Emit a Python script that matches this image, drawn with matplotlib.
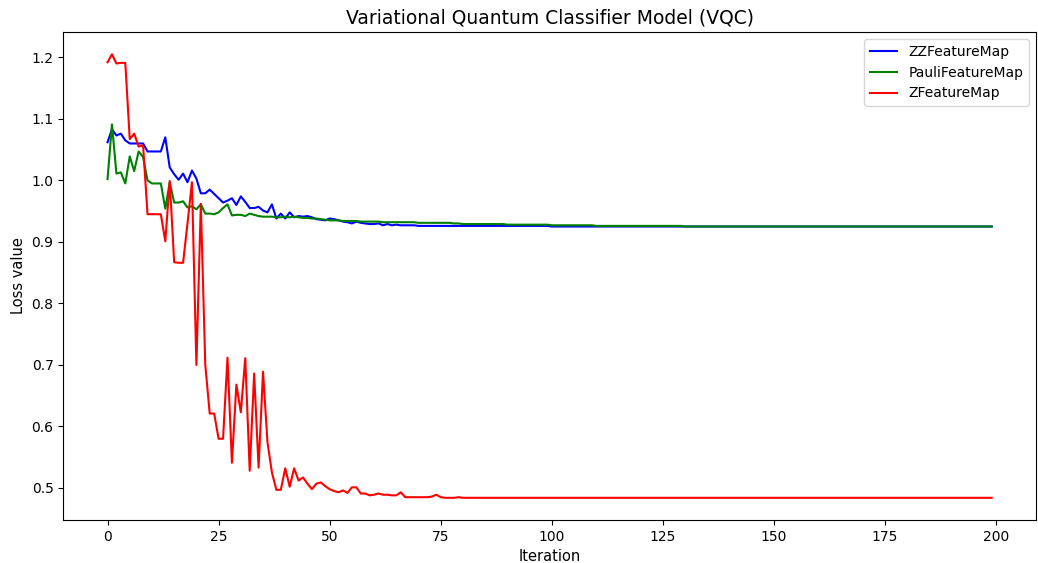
import matplotlib
matplotlib.use("Agg")
import matplotlib.pyplot as plt
import numpy as np

title = "Variational Quantum Classifier Model (VQC)"
labels = ["ZZFeatureMap", "PauliFeatureMap", "ZFeatureMap"]
colors = ["blue", "green", "red"]

zz_loss = [1.062, 1.083, 1.073, 1.076, 1.065, 1.060, 1.060, 1.060, 1.060, 1.047,
           1.047, 1.047, 1.047, 1.070, 1.021, 1.010, 1.001, 1.011, 0.997, 1.016,
           1.003, 0.979, 0.979, 0.985, 0.978, 0.971, 0.964, 0.967, 0.971, 0.960,
           0.974, 0.965, 0.955, 0.955, 0.957, 0.951, 0.948, 0.961, 0.938, 0.946,
           0.938, 0.948, 0.940, 0.942, 0.941, 0.942, 0.940, 0.937, 0.936, 0.935,
           0.938, 0.937, 0.935, 0.933, 0.932, 0.930, 0.933, 0.931, 0.930, 0.929,
           0.929, 0.930, 0.927, 0.929, 0.927, 0.928, 0.927, 0.927, 0.927, 0.927,
           0.926] + [0.926] * 29 + [0.925] * 100

pauli_loss = [1.002, 1.091, 1.011, 1.013, 0.995, 1.039, 1.015, 1.047, 1.038, 1.000,
              0.995, 0.995, 0.995, 0.954, 0.997, 0.964, 0.964, 0.966, 0.956, 0.958,
              0.953, 0.961, 0.946, 0.946, 0.945, 0.948, 0.955, 0.961, 0.943, 0.944,
              0.944, 0.942, 0.946, 0.944, 0.942, 0.941, 0.941, 0.941, 0.940, 0.940,
              0.941, 0.940, 0.941, 0.940, 0.939, 0.939, 0.938, 0.938, 0.937, 0.936,
              0.935,
              0.935, 0.935, 0.934, 0.934, 0.934, 0.934, 0.933, 0.933, 0.933, 0.933,
              0.933, 0.932] + [0.932] * 7 + [0.931] * 8 + [0.930] * 2 + [0.929] * 10 \
             + [0.928] * 10 + [0.927] * 10 + [0.926] * 20 + [0.925] * 70

z_loss = [1.192, 1.205, 1.190, 1.191, 1.191, 1.067, 1.076, 1.055, 1.057, 0.945,
          0.945, 0.945, 0.945, 0.901, 0.999, 0.867, 0.866, 0.866, 0.930, 0.997,
          0.700, 0.962, 0.700, 0.621, 0.621, 0.580, 0.580, 0.712, 0.541, 0.668,
          0.623, 0.711, 0.528, 0.686, 0.533, 0.689, 0.574, 0.525, 0.497, 0.497,
          0.532, 0.502, 0.532, 0.512, 0.517, 0.507, 0.498, 0.507, 0.509, 0.503,
          0.498, 0.495, 0.493, 0.496, 0.492, 0.501, 0.501, 0.491, 0.491, 0.488,
          0.489, 0.491, 0.489, 0.489, 0.488, 0.488, 0.493, 0.485, 0.485, 0.485,
          0.485, 0.485, 0.485, 0.486, 0.489, 0.485, 0.484, 0.484, 0.484, 0.485] \
         + [0.484] * 120

series = [zz_loss, pauli_loss, z_loss]

fig = plt.figure(figsize=(10.38, 5.63), dpi=100)
ax = fig.add_subplot(111)
fig.subplots_adjust(left=0.061, right=0.998, top=0.943, bottom=0.0764)

for vals, lab, col in zip(series, labels, colors):
    ax.plot(np.arange(len(vals)), vals, color=col, label=lab)

ax.set_title(title, fontsize=13.5)
ax.set_xlabel("Iteration", fontsize=10.5)
ax.set_ylabel("Loss value", fontsize=10.5)
ax.legend(loc="upper right")

fig.savefig("out.png", dpi=100)
